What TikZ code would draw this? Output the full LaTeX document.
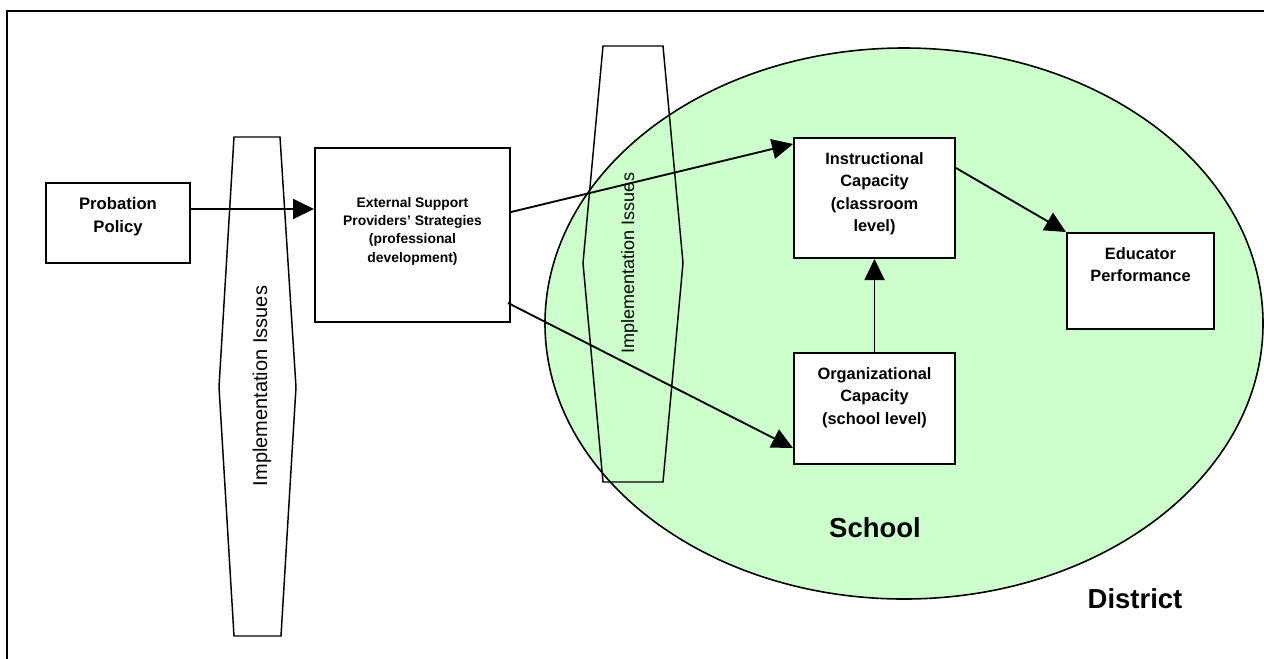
\documentclass[tikz,border=0pt]{standalone}
\usepackage{fontspec}
\setmainfont{Liberation Sans}
\usepackage{tikz}
\usetikzlibrary{arrows.meta}
\definecolor{schoolgreen}{HTML}{CCFFCC}

\begin{document}
\begin{tikzpicture}[x=0.75pt, y=-0.75pt,
  box/.style = {draw, line width=1.5pt, fill=white, inner sep=0pt},
  boxtext/.style = {align=center, inner sep=0pt, anchor=north, font=\bfseries\fontsize{12.3}{16.9}\selectfont},
  arr/.style = {line width=1.4pt, -{Triangle[length=15.75pt, width=15pt]}},
  issues/.style = {line width=1.1pt},
  issuetext/.style = {rotate=90, anchor=base, inner sep=0pt},
  big/.style = {inner sep=0pt, anchor=base, font=\bfseries\fontsize{20.6}{24}\selectfont}]
\useasboundingbox (0,0) rectangle (1264,658);
\clip (0,0) rectangle (1264,658);

% district frame
\draw[line width=1.6pt] (7,700) -- (7,11) -- (1300,11);

% school
\draw[line width=1.2pt, fill=schoolgreen] (904,323.5) ellipse [x radius=359, y radius=275.5];

% implementation issues
\draw[issues] (234,137) -- (280,137) -- (296,387) -- (281,636) -- (234,636) -- (219,387) -- cycle;
\draw[issues] (603,46) -- (663,46) -- (683,263) -- (663,482) -- (603,482) -- (583,263) -- cycle;
\node[issuetext, font=\fontsize{15}{18}\selectfont] (issuesa) at (267,386) {Implementation Issues};
\node[issuetext, font=\fontsize{13.5}{16}\selectfont] (issuesb) at (634,263) {Implementation Issues};

% boxes
\node[box, minimum width=108pt, minimum height=60pt] (prob) at (118,223) {};
\node[box, minimum width=146.25pt, minimum height=130.5pt] (ext) at (412.5,235) {};
\node[box, minimum width=120.75pt, minimum height=90pt] (inst) at (874.5,198) {};
\node[box, minimum width=120.75pt, minimum height=83.25pt] (org) at (874.5,408.5) {};
\node[box, minimum width=110.25pt, minimum height=72pt] (edu) at (1140.5,281) {};

\node[boxtext, font=\bfseries\fontsize{12.5}{17.25}\selectfont] (probtext) at (118,197) {Probation\\Policy};
\node[boxtext, font=\bfseries\fontsize{10.4}{13.7}\selectfont] (exttext) at (412.5,197) {External Support\\Providers' Strategies\\(professional\\development)};
\node[boxtext] (insttext) at (874.5,152) {Instructional\\Capacity\\(classroom\\level)};
\node[boxtext] (orgtext) at (874.5,367) {Organizational\\Capacity\\(school level)};
\node[boxtext] (edutext) at (1140.5,247) {Educator\\Performance};

% arrows
\coordinate (probout) at ([yshift=10.5pt]prob.east);
\draw[arr] (probout) -- (probout -| ext.west);
\draw[arr] ([yshift=17.25pt]ext.east) -- ([yshift=40.5pt]inst.west);
\draw[arr] ([xshift=-2.25pt, yshift=-51pt]ext.east) -- ([yshift=-29.6pt]org.west);
\draw[arr] (org.north) -- (inst.south);
\draw[arr] ([yshift=22.5pt]inst.east) -- (edu.north west);

\node[big] (school) at (875,537) {School};
\node[big] (district) at (1135,608) {District};
\end{tikzpicture}
\end{document}
